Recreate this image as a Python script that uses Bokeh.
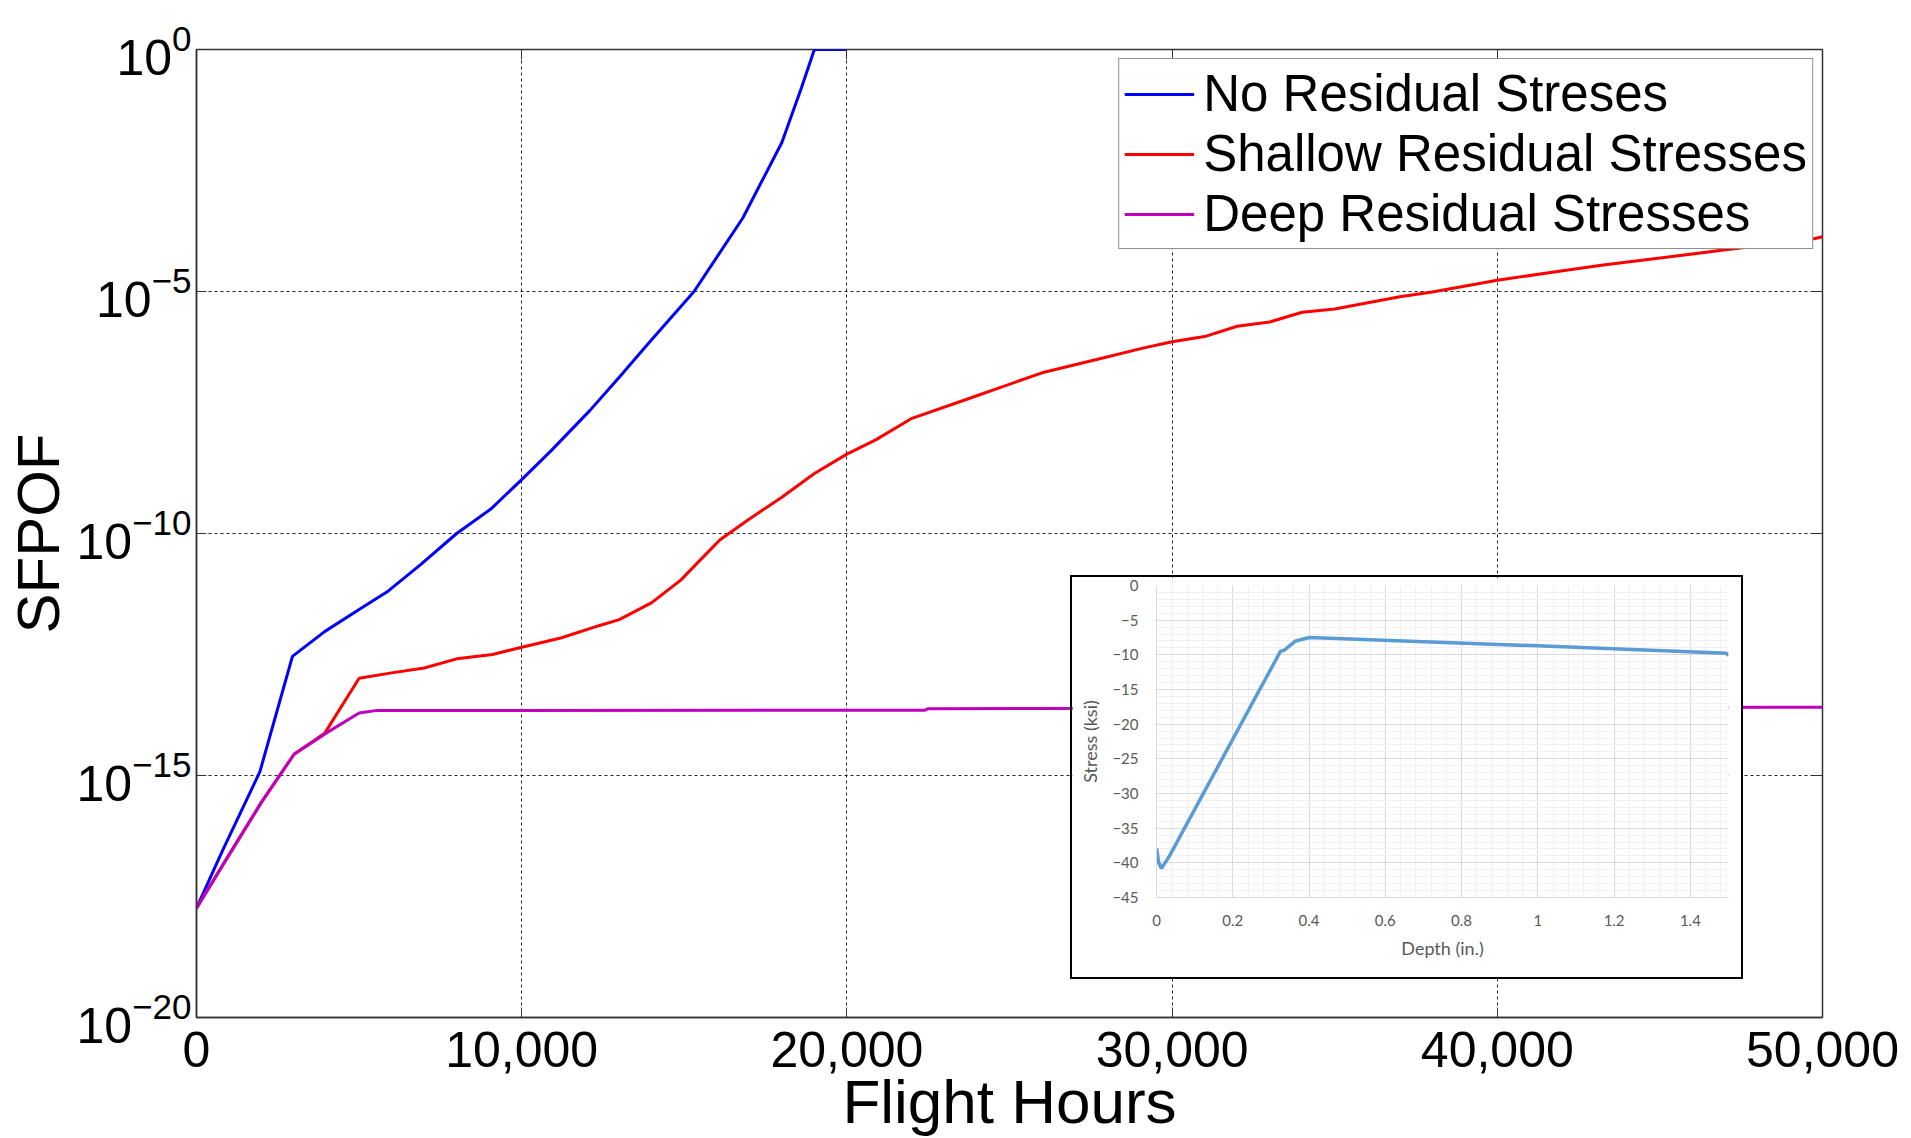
from bokeh.plotting import figure
from bokeh.models import (FixedTicker, NumeralTickFormatter, CustomJSTickFormatter,
                          Legend, LegendItem, LinearAxis, LogAxis, SingleIntervalTicker, Range1d)
from bokeh.layouts import column, row
from bokeh.embed import file_html
from bokeh.resources import INLINE

# ---------------- data ----------------
hours_none = [0, 800, 1950, 2950, 3950, 5000, 5900, 6900, 8000, 9050, 10000, 10900, 12100,
              13000, 13900, 15300, 16800, 18000, 18600, 19000, 20000]
sfpof_none = [1.82e-18, 2.8e-17, 1.2e-15, 2.9e-13, 9.5e-13, 2.7e-12, 6.5e-12, 2.3e-11, 1.0e-10,
              3.2e-10, 1.3e-9, 5.1e-9, 3.5e-8, 1.7e-7, 8.5e-7, 1.0e-5, 3.3e-4, 1.2e-2, 0.16, 1.0, 1.0]

hours_shallow = [0, 1000, 2000, 3000, 3950, 5000, 6000, 7000, 8000, 9100, 10000, 11200, 12400,
                 13000, 14000, 14900, 15500, 16100, 17000, 18000, 19000, 20000, 20900, 22000,
                 23800, 26000, 27900, 29100, 30000, 31000, 32000, 33000, 34000, 35000, 37000,
                 38000, 40000, 41800, 43200, 46900, 49600, 50000]
sfpof_shallow = [1.82e-18, 2.29e-17, 2.82e-16, 2.75e-15, 7.59e-15, 1.02e-13, 1.32e-13, 1.66e-13,
                 2.57e-13, 3.16e-13, 4.47e-13, 6.92e-13, 1.26e-12, 1.66e-12, 3.72e-12, 1.10e-11,
                 2.88e-11, 7.41e-11, 2.0e-10, 5.62e-10, 1.74e-9, 4.37e-9, 8.71e-9, 2.40e-8,
                 6.31e-8, 2.09e-7, 4.27e-7, 6.76e-7, 9.12e-7, 1.17e-6, 1.91e-6, 2.34e-6, 3.72e-6,
                 4.37e-6, 7.76e-6, 9.77e-6, 1.70e-5, 2.57e-5, 3.47e-5, 7.08e-5, 1.17e-4, 1.35e-4]

hours_deep = [0, 1000, 2000, 3000, 4000, 5000, 5500, 22400, 22500, 50000]
sfpof_deep = [1.82e-18, 2.29e-17, 2.82e-16, 2.75e-15, 7.59e-15, 1.95e-14, 2.19e-14, 2.24e-14,
              2.40e-14, 2.57e-14]

series_names = ["No Residual Streses", "Shallow Residual Stresses", "Deep Residual Stresses"]

x_ticks = [0, 10000, 20000, 30000, 40000, 50000]
y_ticks = [1e-20, 1e-15, 1e-10, 1e-5, 1.0]

depth_in = [0, 0.006, 0.013, 0.033, 0.325, 0.336, 0.365, 0.40, 1.0, 1.494, 1.5]
stress_ksi = [-37.9, -40.0, -40.8, -39.1, -9.5, -9.3, -8.0, -7.5, -8.7, -9.76, -10.1]

FONT = "Liberation Sans"

# ---------------- main figure ----------------
p = figure(width=1911, height=1138, y_axis_type="log",
           x_range=Range1d(0, 50000), y_range=Range1d(1e-20, 1.0),
           output_backend="svg", toolbar_location=None,
           min_border_left=196, min_border_right=89, min_border_top=49, min_border_bottom=120)
p.background_fill_color = "white"
p.border_fill_color = "white"
p.outline_line_color = "#333333"
p.outline_line_width = 1.5

r_none = p.line(hours_none, sfpof_none, line_color="#0000FF", line_width=3)
r_shallow = p.line(hours_shallow, sfpof_shallow, line_color="#FF0000", line_width=3)
r_deep = p.line(hours_deep, sfpof_deep, line_color="#C000C0", line_width=3)

# x axis
p.xaxis.ticker = FixedTicker(ticks=x_ticks)
p.xaxis.formatter = NumeralTickFormatter(format="0,0")
p.xaxis.major_label_text_font = FONT
p.xaxis.major_label_text_font_size = "50px"
p.xaxis.major_label_text_color = "black"
p.xaxis.major_label_standoff = 14
p.xaxis.axis_label = "Flight Hours"
p.xaxis.axis_label_text_font = FONT
p.xaxis.axis_label_text_font_size = "62px"
p.xaxis.axis_label_text_font_style = "normal"
p.xaxis.axis_label_text_color = "black"
p.xaxis.axis_label_standoff = -3

# y axis (log, powers of ten shown as 10 with raised exponent)
p.yaxis.ticker = FixedTicker(ticks=y_ticks, minor_ticks=[])
p.yaxis.major_label_text_font = FONT
p.yaxis.major_label_text_font_size = "50px"
p.yaxis.major_label_text_color = "black"
p.yaxis.major_label_standoff = 5
p.yaxis.axis_label = "SFPOF"
p.yaxis.axis_label_text_font = FONT
p.yaxis.axis_label_text_font_size = "60px"
p.yaxis.axis_label_text_font_style = "normal"
p.yaxis.axis_label_text_color = "black"
p.yaxis.axis_label_standoff = 2

for ax in [p.xaxis[0], p.yaxis[0]]:
    ax.major_tick_in = 10
    ax.major_tick_out = 0
    ax.minor_tick_line_color = None
    ax.major_tick_line_color = "#333333"
    ax.axis_line_color = "#333333"
    ax.axis_line_width = 1.5

top_axis = LinearAxis(ticker=FixedTicker(ticks=x_ticks), formatter=CustomJSTickFormatter(code="return ''"),
                      major_tick_in=10, major_tick_out=0, minor_tick_line_color=None,
                      axis_line_color=None, major_tick_line_color="#333333", major_label_standoff=0)
p.add_layout(top_axis, "above")
right_axis = LogAxis(ticker=FixedTicker(ticks=y_ticks, minor_ticks=[]), formatter=CustomJSTickFormatter(code="return ''"),
                     major_tick_in=10, major_tick_out=0, minor_tick_line_color=None,
                     axis_line_color=None, major_tick_line_color="#333333", major_label_standoff=0)
p.add_layout(right_axis, "right")

for g in [p.xgrid[0], p.ygrid[0]]:
    g.grid_line_color = "black"
    g.grid_line_dash = "3 3"
    g.grid_line_width = 1
    g.grid_line_alpha = 0.85

legend = Legend(items=[LegendItem(label=series_names[0], renderers=[r_none]),
                       LegendItem(label=series_names[1], renderers=[r_shallow]),
                       LegendItem(label=series_names[2], renderers=[r_deep])],
                location="top_right")
legend.label_text_font = FONT
legend.label_text_font_size = "51px"
legend.label_text_color = "black"
legend.glyph_width = 70
legend.glyph_height = 58
legend.label_height = 58
legend.label_standoff = 9
legend.padding = 5
legend.spacing = 1
legend.margin = 9
legend.border_line_color = "#222222"
legend.border_line_width = 1.5
legend.background_fill_color = "white"
legend.background_fill_alpha = 1.0
p.add_layout(legend)

# ---------------- inset ----------------
GREY = "#595959"
ins = figure(width=673, height=404, x_range=Range1d(0, 1.5), y_range=Range1d(-45, 0),
             output_backend="svg", toolbar_location=None,
             min_border_left=84, min_border_right=17, min_border_top=8, min_border_bottom=84)
ins.background_fill_color = "white"
ins.border_fill_color = "white"
ins.outline_line_color = None
ins.line(depth_in, stress_ksi, line_color="#5B9BD5", line_width=3.5)
ins.xaxis.ticker = SingleIntervalTicker(interval=0.2, num_minor_ticks=5)
ins.yaxis.ticker = SingleIntervalTicker(interval=5, num_minor_ticks=5)
ins.xaxis.formatter = CustomJSTickFormatter(code="return tick.toFixed(1).replace(/\\.0$/, '')")
for ax in [ins.xaxis[0], ins.yaxis[0]]:
    ax.major_tick_line_color = None
    ax.minor_tick_line_color = None
    ax.axis_line_color = "#D9D9D9"
    ax.major_label_text_font = "Lato"
    ax.major_label_text_font_size = "15px"
    ax.major_label_text_color = GREY
    ax.axis_label_text_font = "Lato"
    ax.axis_label_text_font_size = "18px"
    ax.axis_label_text_font_style = "normal"
    ax.axis_label_text_color = GREY
ins.xaxis.major_label_standoff = 11
ins.yaxis.major_label_standoff = 12
ins.xaxis.axis_label = "Depth (in.)"
ins.yaxis.axis_label = "Stress (ksi)"
ins.xaxis.axis_label_standoff = 8
ins.yaxis.axis_label_standoff = 8
for g in [ins.xgrid[0], ins.ygrid[0]]:
    g.grid_line_color = "#D9D9D9"
    g.grid_line_width = 1
    g.minor_grid_line_color = "#F0F0F0"
    g.minor_grid_line_width = 1
ins.styles = {"border": "2px solid black"}
ins.margin = 0

inset_box = row(ins)
inset_box.margin = (-563, 0, 0, 1070)
p.margin = 0
layout = column(p, inset_box)
layout.margin = 0

with open("out.html", "w") as f:
    f.write(file_html(layout, INLINE))
